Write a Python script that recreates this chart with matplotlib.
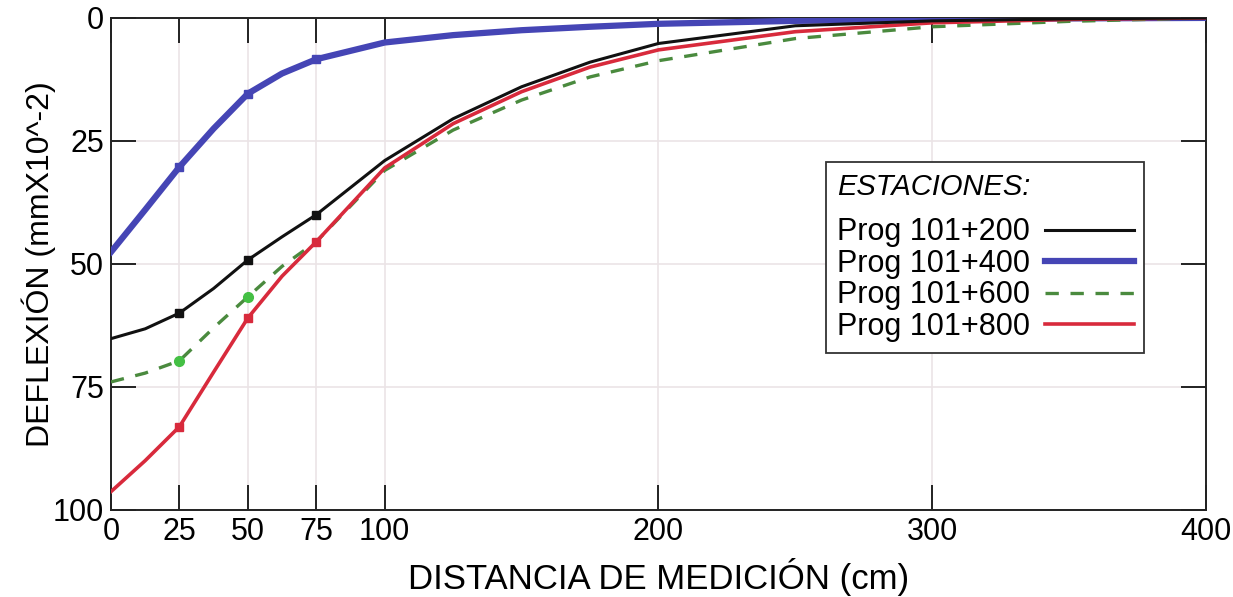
import matplotlib.pyplot as plt

# distancia de medición (cm)
dist = [0, 12.5, 25, 37.5, 50, 62.5, 75, 100, 125, 150, 175, 200, 250, 300, 350, 400]

# deflexión (mm x 10^-2)
prog_200 = [65.2, 63.2, 60, 55, 49.2, 44.5, 40, 29, 20.5, 14, 9, 5.2, 1.6, 0.6, 0.2, 0]
prog_400 = [47.6, 39, 30.3, 22.5, 15.4, 11.3, 8.4, 5, 3.5, 2.5, 1.8, 1.2, 0.6, 0.3, 0.1, 0]
prog_600 = [74, 72.2, 69.7, 63, 56.7, 50.5, 45.5, 31, 22.8, 16.7, 12, 8.7, 4.2, 1.8, 0.7, 0]
prog_800 = [96.3, 90, 83.1, 72, 61, 52.5, 45.5, 30.5, 21.5, 15, 10, 6.5, 2.8, 1.0, 0.3, 0]

xticks = [0, 25, 50, 75, 100, 200, 300, 400]
yticks = [0, 25, 50, 75, 100]
marks = [2, 4, 6]  # puntos medidos a 25, 50, 75 cm

plt.rcParams['font.family'] = ['Liberation Sans', 'DejaVu Sans']

fig = plt.figure(figsize=(12.33, 5.97), dpi=100)
ax = fig.add_axes([0.090, 0.146, 0.888, 0.824])

ax.plot(dist, prog_200, color='#111111', lw=2.2, marker='s', ms=6, markevery=marks,
        label='Prog 101+200', zorder=4)
ax.plot(dist, prog_400, color='#4545b5', lw=4.5, marker='s', ms=6, markevery=marks,
        label='Prog 101+400', zorder=3)
ax.plot(dist, prog_600, color='#4a8a3e', lw=2.4, ls=(0, (4, 3.5)), marker='o', ms=7,
        mfc='#44c044', mec='#44c044', markevery=marks[:2], label='Prog 101+600', zorder=3)
ax.plot(dist, prog_800, color='#d82a3c', lw=2.6, marker='s', ms=6, markevery=marks,
        label='Prog 101+800', zorder=3)

ax.set_xlim(0, 400)
ax.set_ylim(100, 0)
ax.set_xticks(xticks)
ax.set_yticks(yticks)
ax.tick_params(direction='in', length=18, width=1.4, labelsize=22, color='#222222',
               top=True, right=True, pad=5)
ax.grid(True, color='#ebe4e6', lw=1.2)
ax.set_axisbelow(True)
for s in ax.spines.values():
    s.set_linewidth(1.4)
    s.set_color('#222222')

ax.set_xlabel('DISTANCIA DE MEDICIÓN (cm)', fontsize=25, labelpad=8)
ax.set_ylabel('DEFLEXIÓN (mmX10^-2)', fontsize=23)
ax.yaxis.set_label_coords(-0.05, 0.5)

leg = ax.legend(loc='upper left', bbox_to_anchor=(0.653, 0.707), borderaxespad=0,
                fontsize=22, title='ESTACIONES:',
                title_fontproperties={'size': 21, 'style': 'italic'},
                markerfirst=False, handlelength=2.9, handletextpad=0.5,
                fancybox=False, framealpha=1, edgecolor='#333333',
                borderpad=0.35, labelspacing=0.05, alignment='left')
for h in leg.legend_handles:
    h.set_marker('')
leg._legend_box.sep = 12
leg.get_frame().set_linewidth(1.3)

fig.savefig('out.png', dpi=100)
